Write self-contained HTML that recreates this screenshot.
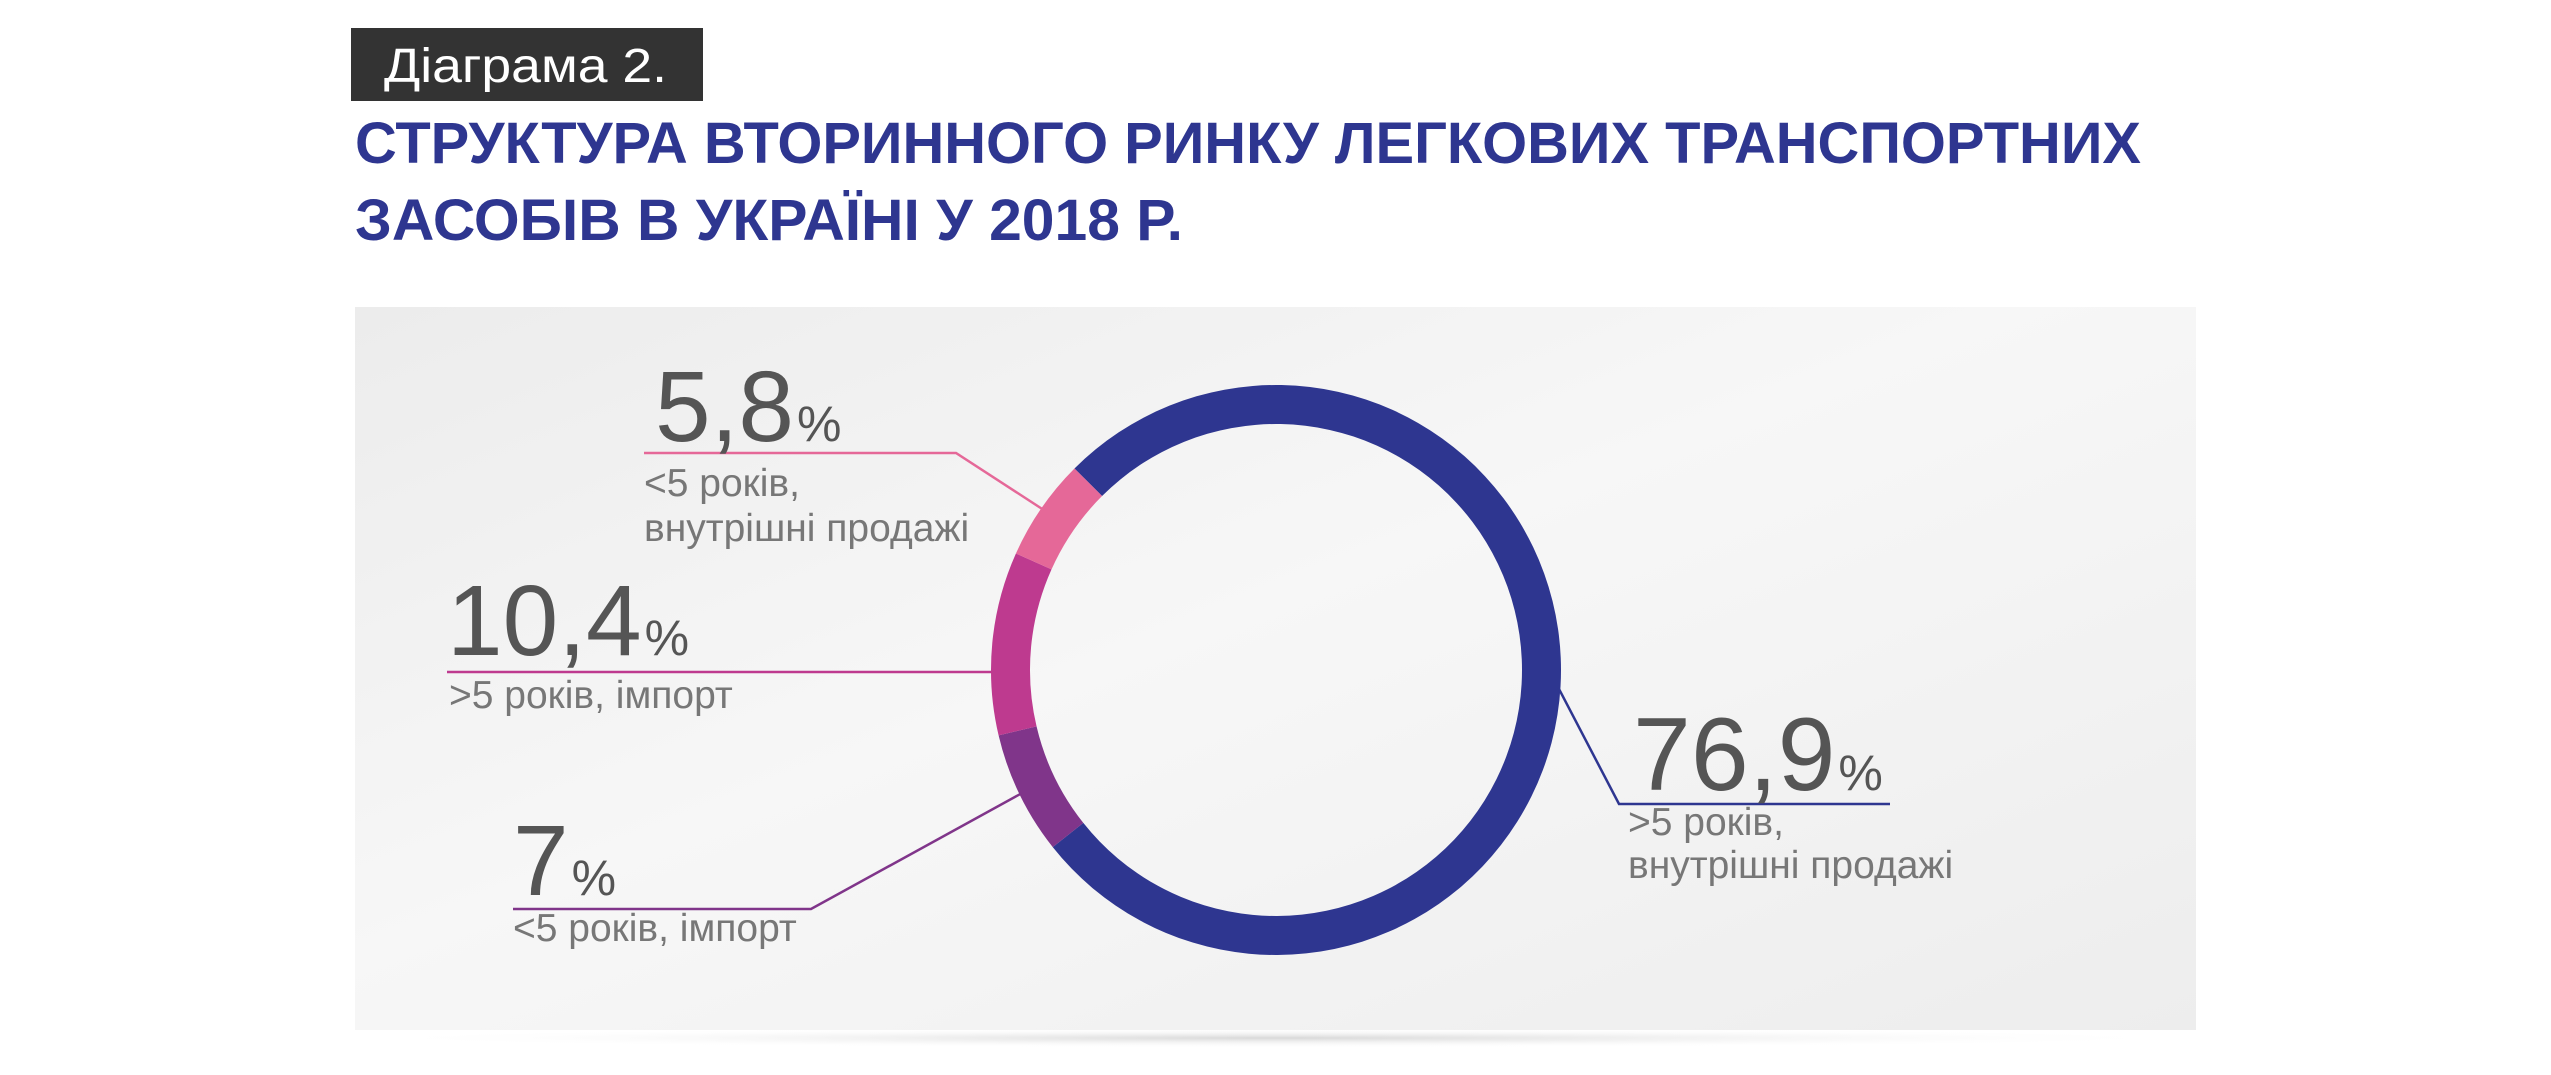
<!DOCTYPE html>
<html><head><meta charset="utf-8">
<style>
html,body{margin:0;padding:0;background:#fff;}
svg{display:block;}
text{font-family:"Liberation Sans",sans-serif;}
</style></head>
<body>
<svg id="chart" width="2551" height="1075" viewBox="0 0 2551 1075" xmlns="http://www.w3.org/2000/svg">
<defs>
<linearGradient id="bg" x1="0" y1="0" x2="1" y2="1">
<stop offset="0" stop-color="#ececec"/><stop offset="0.45" stop-color="#f7f7f7"/><stop offset="1" stop-color="#ededed"/>
</linearGradient>
<radialGradient id="sh" cx="0.5" cy="0.5" r="0.5">
<stop offset="0" stop-color="#d8d8d8"/><stop offset="1" stop-color="#ffffff" stop-opacity="0"/>
</radialGradient>
</defs>
<rect x="351" y="28" width="352" height="73" fill="#333333"/>
<text x="384" y="82" font-size="48" fill="#ffffff" textLength="283" lengthAdjust="spacingAndGlyphs">Діаграма 2.</text>
<text x="355" y="163" font-size="58" font-weight="bold" fill="#2e3690" textLength="1786" lengthAdjust="spacingAndGlyphs">СТРУКТУРА ВТОРИННОГО РИНКУ ЛЕГКОВИХ ТРАНСПОРТНИХ</text>
<text x="355" y="240" font-size="58" font-weight="bold" fill="#2e3690" textLength="828" lengthAdjust="spacingAndGlyphs">ЗАСОБІВ В УКРАЇНІ У 2018 Р.</text>
<ellipse cx="1275" cy="1038" rx="930" ry="10" fill="url(#sh)"/>
<rect x="355" y="307" width="1841" height="723" fill="url(#bg)"/>
<g id="ring"></g>
<g id="callouts"></g>
</svg>
<script>
const categories = ["&gt;5 років, внутрішні продажі", "&lt;5 років, імпорт", "&gt;5 років, імпорт", "&lt;5 років, внутрішні продажі"];
const values = [76.9, 7, 10.4, 5.8];
const valueLabels = ["76,9", "7", "10,4", "5,8"];
const colors = ["#2e3690", "#80358a", "#be3a8f", "#e56898"];
const NS = "http://www.w3.org/2000/svg";
const cx = 1276, cy = 670, rOut = 285, rIn = 246;
const startDeg = 315;
const total = values.reduce((a, b) => a + b, 0);
function angleScale(v) { return v / total * 360; }
function pt(deg, r) { const a = (deg - 90) * Math.PI / 180; return [cx + r * Math.cos(a), cy + r * Math.sin(a)]; }
const ring = document.getElementById("ring");
let acc = startDeg;
const mids = [];
values.forEach((v, i) => {
  const a0 = acc, a1 = acc + angleScale(v);
  acc = a1;
  mids.push((a0 + a1) / 2);
  const large = (a1 - a0) > 180 ? 1 : 0;
  const p0 = pt(a0, rOut), p1 = pt(a1, rOut), p2 = pt(a1, rIn), p3 = pt(a0, rIn);
  const path = document.createElementNS(NS, "path");
  path.setAttribute("d", `M${p0[0]},${p0[1]} A${rOut},${rOut} 0 ${large} 1 ${p1[0]},${p1[1]} L${p2[0]},${p2[1]} A${rIn},${rIn} 0 ${large} 0 ${p3[0]},${p3[1]} Z`);
  path.setAttribute("fill", colors[i]);
  
  
  ring.appendChild(path);
});
const slots = [
  {tx: 1633, base: 790, fs: 104, lineY: 804, x0: 1619, x1: 1890, knee: 1619, lines: ["&gt;5 років,", "внутрішні продажі"], lx: 1628, lb: 835, lg: 43},
  {tx: 513, base: 895, fs: 100, lineY: 909, x0: 513, x1: 811, knee: 811, lines: ["&lt;5 років, імпорт"], lx: 513, lb: 941, lg: 43},
  {tx: 447, base: 655, fs: 100, lineY: 672, x0: 447, x1: 993, knee: 993, lines: ["&gt;5 років, імпорт"], lx: 449, lb: 708, lg: 43},
  {tx: 655, base: 441, fs: 100, lineY: 453, x0: 644, x1: 956, knee: 956, lines: ["&lt;5 років,", "внутрішні продажі"], lx: 644, lb: 496, lg: 45}
];
const cg = document.getElementById("callouts");
slots.forEach((s, i) => {
  const edge = pt(mids[i], rOut - 3);
  const pl = document.createElementNS(NS, "polyline");
  let pts;
  if (i === 0) pts = `${edge[0]},${edge[1]} ${s.knee},${s.lineY} ${s.x1},${s.lineY}`;
  else if (i === 2) pts = `${s.x0},${s.lineY} ${s.x1},${s.lineY}`;
  else pts = `${s.x0},${s.lineY} ${s.knee},${s.lineY} ${edge[0]},${edge[1]}`;
  pl.setAttribute("points", pts);
  pl.setAttribute("fill", "none");
  pl.setAttribute("stroke", colors[i]);
  pl.setAttribute("stroke-width", "2.5");
  
  
  cg.appendChild(pl);
  const t = document.createElementNS(NS, "text");
  t.setAttribute("x", s.tx);
  t.setAttribute("y", s.base);
  t.setAttribute("fill", "#555555");
  t.innerHTML = `<tspan font-size="${s.fs}">${valueLabels[i]}</tspan><tspan font-size="50" dx="3">%</tspan>`;
  
  
  cg.appendChild(t);
  s.lines.forEach((ln, j) => {
    const l = document.createElementNS(NS, "text");
    l.setAttribute("x", s.lx);
    l.setAttribute("y", s.lb + j * s.lg);
    l.setAttribute("font-size", "39");
    l.setAttribute("fill", "#777777");
    l.innerHTML = ln;
    
    
    cg.appendChild(l);
  });
});
</script>
</body></html>
